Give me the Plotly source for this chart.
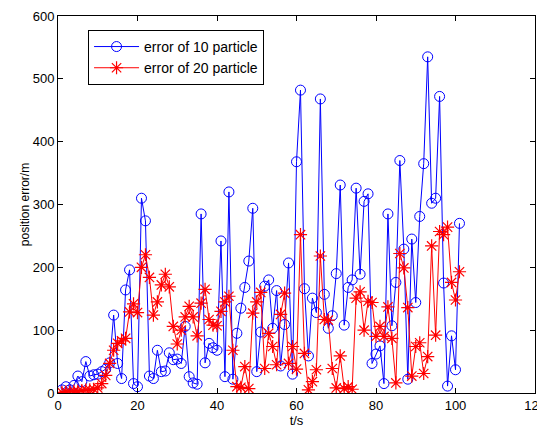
import plotly.graph_objects as go

t = list(range(1, 102))

err10 = [5, 10, 5, 12, 27, 18, 50, 27, 29, 30, 34, 38, 48, 124, 47, 23, 164, 196, 15, 10,
         310, 274, 27, 23, 68, 34, 35, 64, 53, 54, 47, 106, 26, 16, 14, 285, 48, 79, 72, 68,
         242, 26, 320, 22, 95, 135, 168, 210, 294, 34, 97, 170, 180, 103, 163, 43, 109, 207, 30, 368,
         482, 166, 59, 151, 128, 468, 157, 103, 123, 190, 331, 108, 168, 180, 326, 189, 305, 317, 47, 62,
         75, 15, 285, 107, 176, 370, 229, 22, 245, 144, 281, 365, 535, 302, 310, 472, 175, 11, 91, 37,
         270]

err20 = [1, 2, 2, 3, 3, 4, 5, 5, 6, 8, 15, 28, 47, 68, 79, 83, 87, 129, 142, 128,
         200, 220, 184, 124, 145, 172, 189, 169, 106, 78, 100, 121, 138, 121, 91, 143, 165, 117, 108, 107,
         130, 145, 154, 68, 10, 9, 42, 7, 127, 145, 160, 39, 95, 74, 45, 125, 159, 47, 74, 38,
         252, 63, 5, 18, 37, 218, 117, 116, 39, 8, 59, 7, 10, 6, 151, 161, 100, 146, 144, 90,
         106, 90, 137, 87, 16, 222, 199, 136, 27, 74, 80, 31, 58, 234, 92, 257, 252, 264, 176, 148,
         193]

x_ticks = [0, 20, 40, 60, 80, 100, 120]
y_ticks = [0, 100, 200, 300, 400, 500, 600]

FONT = "Liberation Sans, Arial"

fig = go.Figure()
fig.add_trace(go.Scatter(
    x=t, y=err10, mode="lines+markers", name="error of 10 particle",
    line=dict(color="#0000ff", width=1),
    marker=dict(symbol="circle-open", size=10, color="#0000ff", line=dict(width=1, color="#0000ff")),
))
fig.add_trace(go.Scatter(
    x=t, y=err20, mode="lines+markers", name="error of 20 particle",
    line=dict(color="#ff0000", width=1),
    marker=dict(symbol="asterisk-open", size=11, color="#ff0000", line=dict(width=1.2, color="#ff0000")),
))

axis_common = dict(
    showline=True, linecolor="black", linewidth=1, mirror="ticks",
    ticks="inside", ticklen=5, tickcolor="black", showgrid=False, zeroline=False,
    automargin=False,
    tickfont=dict(family=FONT, size=13, color="black"),
)

fig.update_xaxes(range=[0, 120], tickvals=x_ticks, ticktext=[str(v) for v in x_ticks],
                 title=dict(text="t/s", font=dict(family=FONT, size=13, color="black"), standoff=2),
                 **axis_common)
fig.update_yaxes(range=[0, 600], tickvals=y_ticks, ticktext=[str(v) for v in y_ticks],
                 title=dict(text="position error/m", font=dict(family=FONT, size=12, color="black"), standoff=0),
                 **axis_common)

fig.update_layout(
    width=545, height=430,
    margin=dict(l=50, r=18, t=8, b=45),
    paper_bgcolor="white", plot_bgcolor="white",
    showlegend=True,
    legend=dict(x=0.063, y=0.963, xanchor="left", yanchor="top",
                bgcolor="white", bordercolor="black", borderwidth=1,
                font=dict(family=FONT, size=14, color="black"),
                tracegroupgap=0, itemwidth=45),
)

fig.write_html("out.html")
